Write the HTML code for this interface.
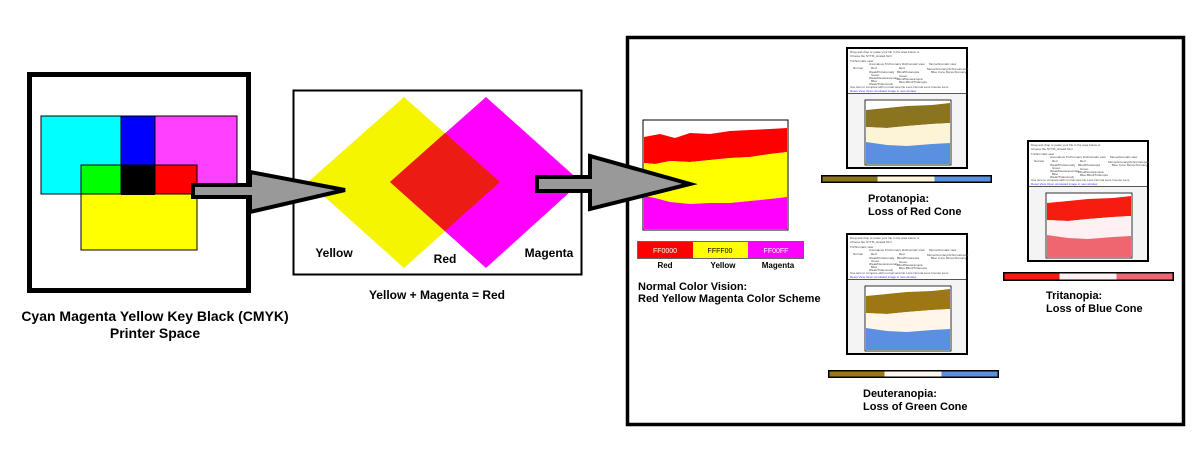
<!DOCTYPE html>
<html><head><meta charset="utf-8"><style>
html,body{margin:0;padding:0;background:#fff;}
svg{display:block;font-family:"Liberation Sans",Arial,sans-serif;}
.b{font-weight:bold;fill:#000;}
.t{font-size:3px;fill:#444;}
.l{font-size:3px;fill:#33f;}
</style></head><body>
<svg width="1200" height="450" viewBox="0 0 1200 450" xmlns="http://www.w3.org/2000/svg">
<defs>
<g id="hdr">
<rect x="0" y="0" width="120" height="120" fill="#f4f4f4" stroke="#000" stroke-width="2"/>
<rect x="1" y="1" width="118" height="44" fill="#fff"/>
<text class="t" x="3" y="5">Drag and drop or paste your file in the area below or</text>
<text class="t" x="3" y="9">Choose file   NYTM_strated.html</text>
<text class="t" x="3" y="14">Trichromatic view</text>
<text class="t" x="22" y="17">Anomalous Trichromacy  Dichromatic view</text>
<text class="t" x="82" y="17">Monochromatic view</text>
<text class="t" x="6" y="21">Normal</text>
<text class="t" x="24" y="21">Red</text>
<text class="t" x="52" y="21">Red</text>
<text class="t" x="80" y="22">Monochromacy/Achromatopsia</text>
<text class="t" x="22" y="25">Weak/Protanomaly</text>
<text class="t" x="50" y="25">Blind/Protanopia</text>
<text class="t" x="84" y="25">Blue Cone Monochromacy</text>
<text class="t" x="24" y="28">Green</text><text class="t" x="52" y="29">Green</text>
<text class="t" x="22" y="31">Weak/Deuteranomaly</text><text class="t" x="50" y="32">Blind/Deuteranopia</text>
<text class="t" x="24" y="34">Blue</text><text class="t" x="52" y="35">Blue-Blind/Tritanopia</text>
<text class="t" x="22" y="37">Weak/Tritanomaly</text>
<text class="t" x="3" y="40">Use lens to compare with normal view  No Lens  Normal Lens  Inverse Lens</text>
<text class="l" x="3" y="44">Reset View   Open simulated image in new window</text>
<line x1="1" y1="45.5" x2="119" y2="45.5" stroke="#555" stroke-width="1"/>
</g>
</defs>

<!-- Left CMYK box -->
<rect x="29.5" y="74.5" width="219" height="216" fill="#fff" stroke="#000" stroke-width="5"/>
<rect x="41" y="116" width="80" height="78" fill="#00ffff" stroke="#000" stroke-width="1"/>
<rect x="121" y="116" width="34" height="49" fill="#0000ff" stroke="#000" stroke-width="1"/>
<rect x="155" y="116" width="82" height="69" fill="#ff40ff" stroke="#000" stroke-width="1"/>
<rect x="81" y="165" width="116" height="85" fill="#ffff00" stroke="#000" stroke-width="1"/>
<rect x="81" y="165" width="40" height="29" fill="#00ff00" stroke="#000" stroke-width="1"/>
<rect x="121" y="165" width="34" height="30" fill="#000"/>
<rect x="155" y="165" width="42" height="29" fill="#ff0000" stroke="#000" stroke-width="1"/>
<text class="b" x="155" y="321" text-anchor="middle" style="font-size:14px">Cyan Magenta Yellow Key Black (CMYK)</text>
<text class="b" x="155" y="338" text-anchor="middle" style="font-size:14px">Printer Space</text>

<!-- Middle box -->
<rect x="293.5" y="90.5" width="288" height="184" fill="#fff" stroke="#000" stroke-width="2"/>
<polygon points="308,182 404,97 500,182 404,268" fill="#f5f500"/>
<polygon points="390,182 486,97 581,182 486,268" fill="#ff00ff"/>
<polygon points="390,182 445,133 500,182 445,231" fill="#ec1c14"/>
<text class="b" x="334" y="257" text-anchor="middle" style="font-size:12px">Yellow</text>
<text class="b" x="445" y="263" text-anchor="middle" style="font-size:12px">Red</text>
<text class="b" x="549" y="257" text-anchor="middle" style="font-size:12px">Magenta</text>
<text class="b" x="437" y="299" text-anchor="middle" style="font-size:12px">Yellow + Magenta = Red</text>

<!-- Arrow 1 -->
<polygon points="193,185 250,185 250,172 345,190 250,212 250,197 193,197" fill="#999" stroke="#000" stroke-width="4" stroke-linejoin="miter"/>

<!-- Right big box -->
<rect x="627.5" y="37.5" width="556" height="387" fill="none" stroke="#000" stroke-width="3.5"/>

<!-- Normal chart -->
<rect x="643" y="120" width="145" height="110" fill="#fff" stroke="#000" stroke-width="1"/>
<path d="M644,137 L660,134 675,138 690,133 710,134 730,131 750,130 770,129 787,128 L787,152 770,154 750,157 730,158 710,160 690,162 670,161 655,164 644,163 Z" fill="#ff0000"/>
<path d="M644,163 L655,164 670,161 690,162 710,160 730,158 750,157 770,154 787,152 L787,197 770,199 750,201 730,203 710,203 690,204 670,202 655,198 644,196 Z" fill="#ffff00"/>
<path d="M644,196 L655,198 670,202 690,204 710,203 730,203 750,201 770,199 787,197 L787,229 644,229 Z" fill="#ff00ff"/>

<!-- Arrow 2 (on top of chart) -->
<polygon points="537,177 590,177 590,156 690,184 590,209 590,191 537,191" fill="#999" stroke="#000" stroke-width="4"/>

<rect x="637.5" y="241.5" width="166" height="17" fill="none" stroke="#666" stroke-width="1"/>
<rect x="638" y="242" width="55" height="16" fill="#ff0000"/>
<rect x="693" y="242" width="55" height="16" fill="#ffff00"/>
<rect x="748" y="242" width="55" height="16" fill="#ff00ff"/>
<text x="665" y="253" style="font-size:7px" fill="#fff" text-anchor="middle">FF0000</text>
<text x="720" y="253" style="font-size:7px" fill="#000" text-anchor="middle">FFFF00</text>
<text x="776" y="253" style="font-size:7px" fill="#fff" text-anchor="middle">FF00FF</text>
<text class="b" x="665" y="268" style="font-size:8px" text-anchor="middle">Red</text>
<text class="b" x="723" y="268" style="font-size:8px" text-anchor="middle">Yellow</text>
<text class="b" x="778" y="268" style="font-size:8px" text-anchor="middle">Magenta</text>
<text class="b" x="638" y="290" style="font-size:11px">Normal Color Vision:</text>
<text class="b" x="638" y="302" style="font-size:11px">Red Yellow Magenta Color Scheme</text>

<!-- Protanopia -->
<g transform="translate(847,48)">
<use href="#hdr"/>
<rect x="18" y="52" width="86" height="65" fill="#fff" stroke="#000" stroke-width="0.8"/>
<path d="M19,62 L40,60 60,58 85,57 103,55 L103,75 85,76 60,78 40,80 19,79 Z" fill="#8a7420"/>
<path d="M19,79 L40,80 60,78 85,76 103,75 L103,95 85,96 60,98 40,97 19,94 Z" fill="#fdf3d6"/>
<path d="M19,94 L40,97 60,98 85,96 103,95 L103,116 19,116 Z" fill="#5b8fe0"/>
</g>
<rect x="821" y="175" width="171" height="8" fill="#000"/>
<rect x="822.5" y="176.5" width="55" height="5" fill="#8a7420"/>
<rect x="877.5" y="176.5" width="57" height="5" fill="#fdf3d6"/>
<rect x="934.5" y="176.5" width="56" height="5" fill="#5b8fe0"/>
<text class="b" x="868" y="202" style="font-size:11px">Protanopia:</text>
<text class="b" x="868" y="215" style="font-size:11px">Loss of Red Cone</text>

<!-- Deuteranopia -->
<g transform="translate(847,234)">
<use href="#hdr"/>
<rect x="18" y="52" width="86" height="65" fill="#fff" stroke="#000" stroke-width="0.8"/>
<path d="M19,62 L40,60 60,58 85,57 103,55 L103,75 85,76 60,78 40,80 19,79 Z" fill="#9c7714"/>
<path d="M19,79 L40,80 60,78 85,76 103,75 L103,95 85,96 60,98 40,97 19,94 Z" fill="#fff5e8"/>
<path d="M19,94 L40,97 60,98 85,96 103,95 L103,116 19,116 Z" fill="#5b8fe0"/>
</g>
<rect x="828" y="370" width="171" height="8" fill="#000"/>
<rect x="829.5" y="371.5" width="55" height="5" fill="#9c7714"/>
<rect x="884.5" y="371.5" width="57" height="5" fill="#fff5e8"/>
<rect x="941.5" y="371.5" width="56" height="5" fill="#5b8fe0"/>
<text class="b" x="863" y="397" style="font-size:11px">Deuteranopia:</text>
<text class="b" x="863" y="410" style="font-size:11px">Loss of Green Cone</text>

<!-- Tritanopia -->
<g transform="translate(1028,141)">
<use href="#hdr"/>
<rect x="18" y="52" width="86" height="65" fill="#fff" stroke="#000" stroke-width="0.8"/>
<path d="M19,62 L40,60 60,58 85,57 103,55 L103,75 85,76 60,78 40,80 19,79 Z" fill="#f61c10"/>
<path d="M19,79 L40,80 60,78 85,76 103,75 L103,95 85,96 60,98 40,97 19,94 Z" fill="#fff0f4"/>
<path d="M19,94 L40,97 60,98 85,96 103,95 L103,116 19,116 Z" fill="#ee6670"/>
</g>
<rect x="1003" y="272" width="171" height="9" fill="#000"/>
<rect x="1004.5" y="273.5" width="55" height="6" fill="#f61c10"/>
<rect x="1059.5" y="273.5" width="57" height="6" fill="#fff0f4"/>
<rect x="1116.5" y="273.5" width="56" height="6" fill="#ee6670"/>
<text class="b" x="1046" y="299" style="font-size:11px">Tritanopia:</text>
<text class="b" x="1046" y="312" style="font-size:11px">Loss of Blue Cone</text>
</svg>
</body></html>
